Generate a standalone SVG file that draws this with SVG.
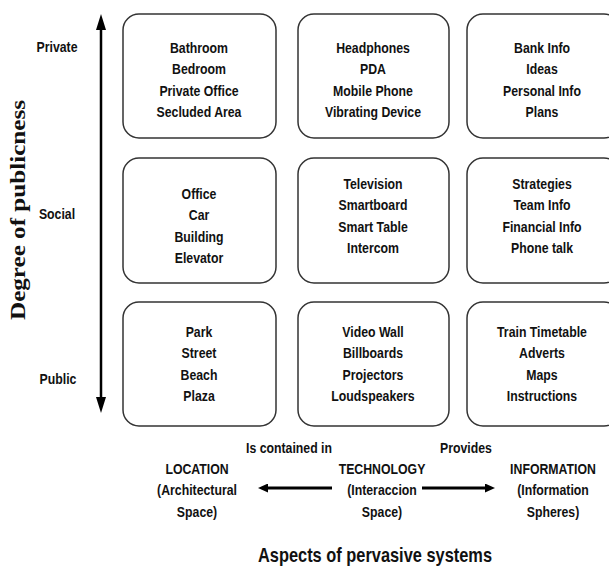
<svg xmlns="http://www.w3.org/2000/svg" width="609" height="567" viewBox="0 0 609 567">
<style>
.box{fill:#fff;stroke:#333;stroke-width:1.5}
.t{font-family:"Liberation Sans",Arial,sans-serif;font-weight:bold;font-size:15px;fill:#111;text-anchor:middle}
.title{font-size:20px}
.axis{font-family:"Liberation Serif","Times New Roman",serif;font-weight:bold;font-size:20px;fill:#111;text-anchor:middle}
.ln{stroke:#000;fill:none}
</style>
<defs>
<marker id="hv" markerUnits="userSpaceOnUse" markerWidth="16" markerHeight="10" refX="0" refY="5" orient="auto-start-reverse" viewBox="0 0 16 10">
<path d="M0,0 L16,5 L0,10 z" fill="#000"/>
</marker>
<marker id="hh" markerUnits="userSpaceOnUse" markerWidth="10" markerHeight="9" refX="0" refY="4.5" orient="auto-start-reverse" viewBox="0 0 10 9">
<path d="M0,0 L10,4.5 L0,9 z" fill="#000"/>
</marker>
</defs>
<rect width="609" height="567" fill="#fff"/>

<g id="axis-label">
<text class="axis" transform="translate(25,210) rotate(-90)" textLength="220" lengthAdjust="spacingAndGlyphs">Degree of publicness</text>
</g>
<g id="level-labels">
<text class="t" transform="translate(57,52) scale(0.82,1)">Private</text>
<text class="t" transform="translate(57,219) scale(0.82,1)">Social</text>
<text class="t" transform="translate(58,384) scale(0.82,1)">Public</text>
</g>

<g id="connectors">
<line class="ln" x1="101" y1="30" x2="101" y2="397" stroke-width="2.5" marker-start="url(#hv)" marker-end="url(#hv)"/>
<line class="ln" x1="332" y1="488" x2="268" y2="488" stroke-width="3" marker-end="url(#hh)"/>
<line class="ln" x1="422" y1="488" x2="485" y2="488" stroke-width="3" marker-end="url(#hh)"/>
</g>

<g id="loc-private">
<rect class="box" x="123" y="14" width="153" height="124" rx="16"/>
<text class="t" transform="translate(199,53) scale(0.82,1)"><tspan x="0" y="0">Bathroom</tspan><tspan x="0" y="21.3">Bedroom</tspan><tspan x="0" y="42.6">Private Office</tspan><tspan x="0" y="64">Secluded Area</tspan></text>
</g>
<g id="tech-private">
<rect class="box" x="298" y="14" width="151" height="124" rx="16"/>
<text class="t" transform="translate(373,53) scale(0.82,1)"><tspan x="0" y="0">Headphones</tspan><tspan x="0" y="21.3">PDA</tspan><tspan x="0" y="42.6">Mobile Phone</tspan><tspan x="0" y="64">Vibrating Device</tspan></text>
</g>
<g id="info-private">
<rect class="box" x="467" y="14" width="153" height="124" rx="16"/>
<text class="t" transform="translate(542,53) scale(0.82,1)"><tspan x="0" y="0">Bank Info</tspan><tspan x="0" y="21.3">Ideas</tspan><tspan x="0" y="42.6">Personal Info</tspan><tspan x="0" y="64">Plans</tspan></text>
</g>

<g id="loc-social">
<rect class="box" x="123" y="158" width="153" height="125" rx="16"/>
<text class="t" transform="translate(199,199) scale(0.82,1)"><tspan x="0" y="0">Office</tspan><tspan x="0" y="21.3">Car</tspan><tspan x="0" y="42.6">Building</tspan><tspan x="0" y="64">Elevator</tspan></text>
</g>
<g id="tech-social">
<rect class="box" x="298" y="158" width="151" height="125" rx="16"/>
<text class="t" transform="translate(373,189) scale(0.82,1)"><tspan x="0" y="0">Television</tspan><tspan x="0" y="21.5">Smartboard</tspan><tspan x="0" y="43">Smart Table</tspan><tspan x="0" y="64.5">Intercom</tspan></text>
</g>
<g id="info-social">
<rect class="box" x="467" y="158" width="153" height="125" rx="16"/>
<text class="t" transform="translate(542,189) scale(0.82,1)"><tspan x="0" y="0">Strategies</tspan><tspan x="0" y="21.5">Team Info</tspan><tspan x="0" y="43">Financial Info</tspan><tspan x="0" y="64.5">Phone talk</tspan></text>
</g>

<g id="loc-public">
<rect class="box" x="123" y="302" width="153" height="124" rx="16"/>
<text class="t" transform="translate(199,337) scale(0.82,1)"><tspan x="0" y="0">Park</tspan><tspan x="0" y="21.3">Street</tspan><tspan x="0" y="42.6">Beach</tspan><tspan x="0" y="64">Plaza</tspan></text>
</g>
<g id="tech-public">
<rect class="box" x="298" y="302" width="151" height="124" rx="16"/>
<text class="t" transform="translate(373,337) scale(0.82,1)"><tspan x="0" y="0">Video Wall</tspan><tspan x="0" y="21.3">Billboards</tspan><tspan x="0" y="42.6">Projectors</tspan><tspan x="0" y="64">Loudspeakers</tspan></text>
</g>
<g id="info-public">
<rect class="box" x="467" y="302" width="153" height="124" rx="16"/>
<text class="t" transform="translate(542,337) scale(0.82,1)"><tspan x="0" y="0">Train Timetable</tspan><tspan x="0" y="21.3">Adverts</tspan><tspan x="0" y="42.6">Maps</tspan><tspan x="0" y="64">Instructions</tspan></text>
</g>

<g id="edge-labels">
<text class="t" transform="translate(289,453) scale(0.82,1)">Is contained in</text>
<text class="t" transform="translate(466,453) scale(0.82,1)">Provides</text>
</g>

<g id="location">
<text class="t" transform="translate(197,474) scale(0.82,1)"><tspan x="0" y="0">LOCATION</tspan><tspan x="0" y="21.5">(Architectural</tspan><tspan x="0" y="43">Space)</tspan></text>
</g>
<g id="technology">
<text class="t" transform="translate(382,474) scale(0.82,1)"><tspan x="0" y="0">TECHNOLOGY</tspan><tspan x="0" y="21.5">(Interaccion</tspan><tspan x="0" y="43">Space)</tspan></text>
</g>
<g id="information">
<text class="t" transform="translate(553,474) scale(0.82,1)"><tspan x="0" y="0">INFORMATION</tspan><tspan x="0" y="21.5">(Information</tspan><tspan x="0" y="43">Spheres)</tspan></text>
</g>

<g id="title">
<text class="t title" transform="translate(375,562) scale(0.82,1)">Aspects of pervasive systems</text>
</g>
</svg>
